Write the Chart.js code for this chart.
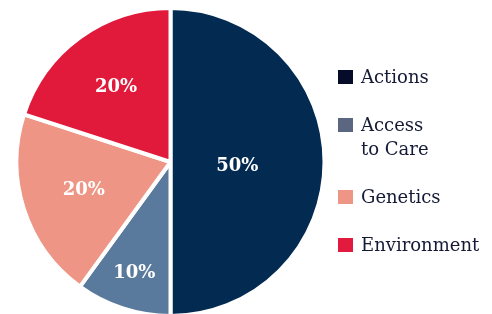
<!DOCTYPE html>
<html lang="en">
<head>
  <meta charset="UTF-8">
  <title>Health Factors</title>
  <script src="https://cdn.jsdelivr.net/npm/chart.js"></script>
  <style>
    html, body { margin: 0; padding: 0; background: #fff; overflow: hidden; }
    #wrap { position: relative; width: 492px; height: 314px; }
    #chartBox { position: absolute; left: 0; top: 0; width: 341px; height: 314px; }
    #legend { position: absolute; left: 338px; top: 65px; margin: 0; padding: 0; list-style: none;
      font-family: "DejaVu Serif", serif; font-size: 18px; line-height: 24px; color: #141a36; }
    #legend li { position: relative; padding-left: 23px; margin-bottom: 24px; }
    #legend .sw { position: absolute; left: 0; top: 5px; width: 15px; height: 14px; }
  </style>
</head>
<body>
<div id="wrap">
  <div id="chartBox"><canvas id="pie"></canvas></div>
  <ul id="legend"></ul>
</div>

<script>
  const categories = ['Actions', 'Access to Care', 'Genetics', 'Environment'];
  const legendLines = [['Actions'], ['Access', 'to Care'], ['Genetics'], ['Environment']];
  const shares = [50, 10, 20, 20];
  const sliceColors = ['#032a51', '#5a7a9d', '#ee9586', '#e11a3b'];
  const legendColors = ['#060b2a', '#5b6680', '#ee9586', '#e11a3e'];

  // where each percentage sits: fraction of radius, and a small turn (degrees) off the slice middle
  const labelRadius = [0.44, 0.77, 0.6, 0.61];
  const labelTurn = [3.5, 0, 0, 0];

  const legend = document.getElementById('legend');
  legendLines.forEach((lines, i) => {
    const li = document.createElement('li');
    li.innerHTML = `<span class="sw" style="background:${legendColors[i]}"></span>` + lines.join('<br>');
    legend.appendChild(li);
  });

  const pctLabels = {
    id: 'pctLabels',
    afterDatasetsDraw(chart) {
      const ctx = chart.ctx;
      const meta = chart.getDatasetMeta(0);
      ctx.save();
      ctx.fillStyle = '#ffffff';
      ctx.font = 'bold 18px "DejaVu Serif", serif';
      ctx.textAlign = 'center';
      ctx.textBaseline = 'middle';
      meta.data.forEach((arc, i) => {
        const p = arc.getProps(['x', 'y', 'startAngle', 'endAngle'], true);
        const mid = (p.startAngle + p.endAngle) / 2 + labelTurn[i] * Math.PI / 180;
        const r = labelRadius[i] * 152;
        ctx.fillText(shares[i] + '%', p.x + Math.cos(mid) * r, p.y + Math.sin(mid) * r);
      });
      ctx.restore();
    }
  };

  new Chart(document.getElementById('pie'), {
    type: 'pie',
    data: {
      labels: categories,
      datasets: [{
        data: shares,
        backgroundColor: sliceColors,
        borderColor: '#ffffff',
        borderWidth: 4,
        hoverOffset: 0,
        radius: 154
      }]
    },
    options: {
      responsive: true,
      maintainAspectRatio: false,
      animation: false,
      layout: { padding: { top: 10, bottom: 0, left: 0, right: 0 } },
      plugins: {
        legend: { display: false },
        tooltip: { enabled: false }
      }
    },
    plugins: [pctLabels]
  });
</script>
</body>
</html>
